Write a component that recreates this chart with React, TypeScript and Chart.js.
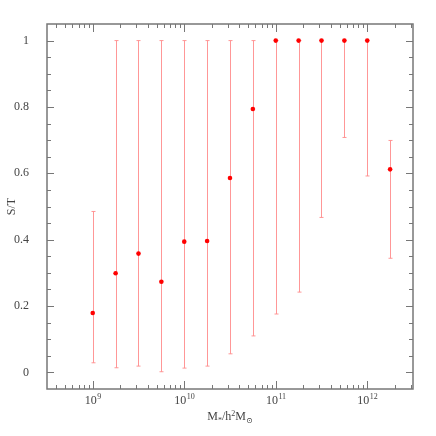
import React, { useEffect, useRef } from "react";
import { Chart, registerables } from "chart.js";

Chart.register(...registerables);

// ---- data ----
const massBins = [1e9, 1.778e9, 3.162e9, 5.623e9, 1e10, 1.778e10, 3.162e10, 5.623e10, 1e11, 1.778e11, 3.162e11, 5.623e11, 1e12, 1.778e12];
const fraction = [0.179, 0.299, 0.358, 0.273, 0.394, 0.396, 0.586, 0.794, 1, 1, 1, 1, 1, 0.612];
const lowerBound = [0.029, 0.014, 0.019, 0.002, 0.013, 0.019, 0.056, 0.11, 0.176, 0.242, 0.467, 0.708, 0.592, 0.344];
const upperBound = [0.485, 1, 1, 1, 1, 1, 1, 1, 1, 1, 1, 1, 1, 0.699];

const xDecades = [8, 9, 10, 11, 12];
const xMinorMultipliers = [1, 2, 3, 4, 5, 6, 7, 8, 9];
const xTickExponents = ["9", "10", "11", "12"];
const yTickLabels = ["0", "0.2", "0.4", "0.6", "0.8", "1"];

const X_MIN = Math.pow(10, 8.5);
const X_MAX = Math.pow(10, 12.5);
const Y_MIN = -0.05;
const Y_MAX = 1.05;

const FONT = "'Liberation Serif', 'DejaVu Serif', serif";
const TEXT_COLOR = "#444";
const FRAME_COLOR = "#777";
const ERR_COLOR = "rgba(255,140,140,0.9)";

const xTickValues: number[] = [];
xDecades.forEach((d) =>
  xMinorMultipliers.forEach((m) => {
    const v = m * Math.pow(10, d);
    if (v > X_MIN && v < X_MAX) xTickValues.push(v);
  })
);

const isPow10 = (v: number) => Math.abs(Math.log10(v) - Math.round(Math.log10(v))) < 1e-6;
const yIsMajor = (v: number) => Math.abs(v * 5 - Math.round(v * 5)) < 1e-6;

const framePlugin = {
  id: "frameAndTicks",
  beforeDatasetsDraw(chart: any) {
    const { ctx, scales } = chart;
    const xs = scales.x;
    const ys = scales.y;
    ctx.save();
    ctx.strokeStyle = ERR_COLOR;
    ctx.lineWidth = 1;
    const cap = 2;
    massBins.forEach((m, i) => {
      const px = Math.round(xs.getPixelForValue(m)) + 0.5;
      const pl = ys.getPixelForValue(lowerBound[i]);
      const ph = ys.getPixelForValue(upperBound[i]);
      ctx.beginPath();
      ctx.moveTo(px, pl);
      ctx.lineTo(px, ph);
      ctx.moveTo(px - cap, ph);
      ctx.lineTo(px + cap, ph);
      ctx.moveTo(px - cap, pl);
      ctx.lineTo(px + cap, pl);
      ctx.stroke();
    });
    ctx.restore();
  },
  afterDraw(chart: any) {
    const { ctx, chartArea, scales } = chart;
    const { left, right, top, bottom } = chartArea;
    const xs = scales.x;
    const ys = scales.y;
    ctx.save();
    ctx.strokeStyle = FRAME_COLOR;
    ctx.lineWidth = 1;
    // ticks x
    xs.ticks.forEach((t: any) => {
      const px = Math.round(xs.getPixelForValue(t.value)) + 0.5;
      const len = isPow10(t.value) ? 8 : 4;
      ctx.beginPath();
      ctx.moveTo(px, bottom);
      ctx.lineTo(px, bottom - len);
      ctx.moveTo(px, top);
      ctx.lineTo(px, top + len);
      ctx.stroke();
    });
    ys.ticks.forEach((t: any) => {
      if (t.value <= Y_MIN + 1e-6 || t.value >= Y_MAX - 1e-6) return;
      const py = Math.round(ys.getPixelForValue(t.value)) + 0.5;
      const len = yIsMajor(t.value) ? 7 : 4;
      ctx.beginPath();
      ctx.moveTo(left, py);
      ctx.lineTo(left + len, py);
      ctx.moveTo(right, py);
      ctx.lineTo(right - len, py);
      ctx.stroke();
    });
    ctx.lineWidth = 1.5;
    ctx.strokeRect(left, top, right - left, bottom - top);

    const big = `12px ${FONT}`;
    const small = `8px ${FONT}`;
    ctx.fillStyle = TEXT_COLOR;
    ctx.textBaseline = "alphabetic";
    ctx.textAlign = "left";

    // x tick labels: 10^n
    xs.ticks.forEach((t: any) => {
      if (!isPow10(t.value)) return;
      const e = Math.round(Math.log10(t.value));
      const idx = e - 9;
      if (idx < 0 || idx >= xTickExponents.length) return;
      const exp = xTickExponents[idx];
      ctx.font = big;
      const w1 = ctx.measureText("10").width;
      ctx.font = small;
      const w2 = ctx.measureText(exp).width;
      const px = xs.getPixelForValue(t.value);
      const x0 = px - (w1 + w2) / 2;
      ctx.font = big;
      ctx.fillText("10", x0, bottom + 15);
      ctx.font = small;
      ctx.fillText(exp, x0 + w1 + 0.5, bottom + 10);
    });

    // x title: M_* / h^2 M_sun
    const parts: [string, string, number][] = [
      ["M", big, 0],
      ["*", small, 3],
      ["/h", big, 0],
      ["2", small, -4],
      ["M", big, 0],
      ["\u2299", small, 3],
    ];
    let total = 0;
    parts.forEach(([s, f]) => {
      ctx.font = f;
      total += ctx.measureText(s).width;
    });
    let cx = (left + right) / 2 - total / 2;
    const baseY = 420;
    parts.forEach(([s, f, dy]) => {
      ctx.font = f;
      ctx.fillText(s, cx, baseY + dy);
      cx += ctx.measureText(s).width;
    });
    // y title
    ctx.save();
    ctx.translate(15, (top + bottom) / 2);
    ctx.rotate(-Math.PI / 2);
    ctx.font = big;
    ctx.textAlign = "center";
    ctx.fillText("S/T", 0, 0);
    ctx.restore();
    ctx.restore();
  },
};

export default function App() {
  const ref = useRef<HTMLCanvasElement>(null);
  useEffect(() => {
    document.body.style.margin = "0";
    const chart = new Chart(ref.current as HTMLCanvasElement, {
      type: "scatter",
      data: {
        datasets: [
          {
            data: massBins.map((m, i) => ({ x: m, y: fraction[i] })),
            backgroundColor: "#ff0000",
            borderColor: "#ff0000",
            pointRadius: 2.3,
            borderWidth: 0,
          },
        ],
      },
      options: {
        animation: false,
        responsive: false,
        layout: { padding: { top: 24, right: 23, left: 0, bottom: 0 } },
        plugins: { legend: { display: false }, tooltip: { enabled: false } },
        scales: {
          x: {
            type: "logarithmic",
            min: X_MIN,
            max: X_MAX,
            grid: { display: false },
            border: { display: false },
            afterBuildTicks: (scale: any) => {
              scale.ticks = xTickValues.map((v) => ({ value: v }));
            },
            afterFit: (scale: any) => {
              scale.height = 47;
            },
            ticks: { display: false, autoSkip: false },
          },
          y: {
            min: Y_MIN,
            max: Y_MAX,
            grid: { display: false },
            border: { display: false },
            afterFit: (scale: any) => {
              scale.width = 47;
            },
            ticks: {
              stepSize: 0.05,
              autoSkip: false,
              padding: 10,
              color: TEXT_COLOR,
              font: { family: FONT, size: 12 },
              callback: (v: any) => {
                const n = Number(v);
                if (!yIsMajor(n) || n < -1e-6 || n > 1 + 1e-6) return "";
                return yTickLabels[Math.round(n * 5)];
              },
            },
          },
        },
      },
      plugins: [framePlugin],
    } as any);
    return () => chart.destroy();
  }, []);
  return (
    <div style={{ width: 436, height: 436 }}>
      <canvas ref={ref} width={436} height={436} />
    </div>
  );
}
